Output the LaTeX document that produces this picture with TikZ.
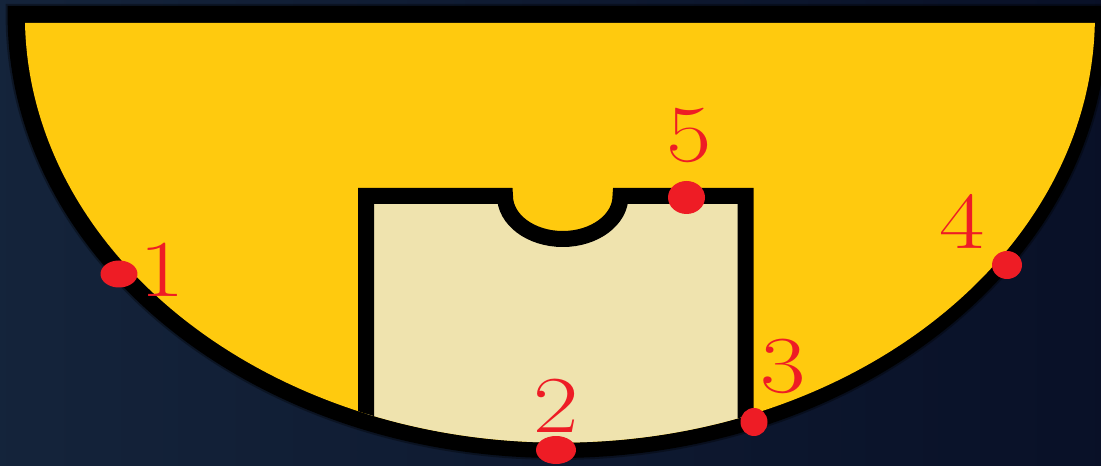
\documentclass[tikz,border=0pt]{standalone}
\usetikzlibrary{shapes.geometric}
\definecolor{bgnavy}{HTML}{15253C}
\definecolor{bgdeep}{HTML}{080F26}
\definecolor{bowlyellow}{HTML}{FFCA0E}
\definecolor{boxcream}{HTML}{EFE3AE}
\definecolor{markred}{HTML}{EE1C25}
\newcommand{\marknum}[1]{\scalebox{1.22}[1]{#1}}

\begin{document}
\begin{tikzpicture}[
        x=.02cm,y=.02cm,
        outline/.style={draw=black,line width=.32cm,miter limit=10},
        mark dot/.style={ellipse,fill=markred,inner sep=0pt},
        mark num/.style={text=markred,inner sep=0pt,font=\fontsize{46}{48}\selectfont}
      ]
        \useasboundingbox (0,0) rectangle (1101,466);
        \clip (0,0) rectangle (1101,466);
        \shade[shading angle=115,left color=bgnavy,right color=bgdeep] (-80,-200) rectangle (1180,660);
        % bowl
        \fill[black,opacity=.35] (5.6,462) -- (5.6,451) arc[start angle=180,end angle=360,x radius=552,y radius=445] -- (1109,462) -- cycle;
        \fill[black] (7.6,460) -- (7.6,451) arc[start angle=180,end angle=360,x radius=550,y radius=443] -- (1107.6,460) -- cycle;
        \fill[bowlyellow] (25,443) arc[start angle=181,end angle=359,x radius=535,y radius=427] -- cycle;
        % cream box
        \begin{scope}
          \clip (25,443) arc[start angle=181,end angle=359,x radius=535,y radius=427] -- cycle;
          \fill[boxcream] (366,0) -- (366,270) -- (505,270)
            arc[start angle=180,end angle=360,x radius=57.75,y radius=43]
            -- (745.5,270) -- (745.5,0) -- cycle;
          \draw[outline] (366,0) -- (366,270) -- (505,270)
            arc[start angle=180,end angle=360,x radius=57.75,y radius=43]
            -- (745.5,270) -- (745.5,0);
        \end{scope}
        % marks
        \node[mark dot,minimum width=.74cm,minimum height=.54cm] (dotone) at (119,192) {};
        \node[mark dot,minimum width=.8cm,minimum height=.56cm] (dottwo) at (556,16) {};
        \node[mark dot,minimum width=.54cm,minimum height=.56cm] (dotthree) at (754,44) {};
        \node[mark dot,minimum width=.6cm,minimum height=.56cm] (dotfour) at (1007,201) {};
        \node[mark dot,minimum width=.74cm,minimum height=.66cm] (dotfive) at (686.5,268.5) {};
        \node[mark num] (numone) at (162,196) {\marknum{1}};
        \node[mark num] (numtwo) at (556,60) {\marknum{2}};
        \node[mark num] (numthree) at (783,100) {\marknum{3}};
        \node[mark num] (numfour) at (962,245) {\marknum{4}};
        \node[mark num] (numfive) at (689,331) {\marknum{5}};
      \end{tikzpicture}
\end{document}
